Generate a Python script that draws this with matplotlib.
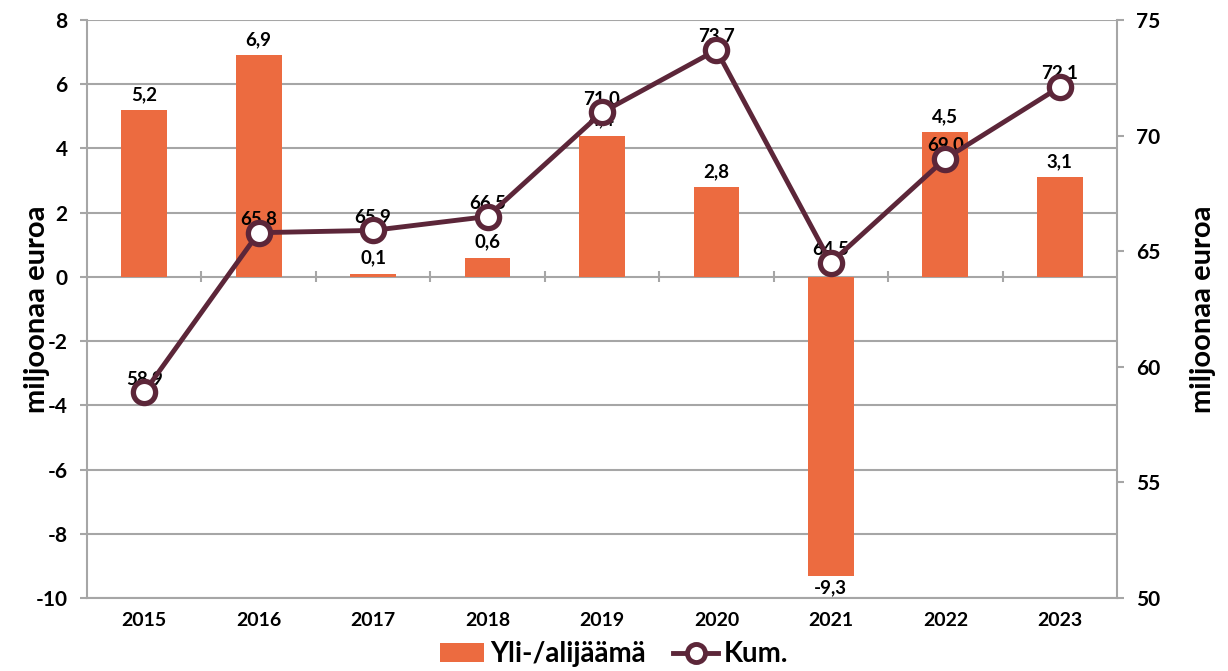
import matplotlib.pyplot as plt
import numpy as np
from matplotlib.lines import Line2D
from matplotlib.patches import Patch

plt.rcParams['font.family'] = ['Lato', 'DejaVu Sans']
plt.rcParams['font.weight'] = 'bold'
plt.rcParams['axes.labelweight'] = 'bold'
plt.rcParams['axes.unicode_minus'] = False

years = ['2015', '2016', '2017', '2018', '2019', '2020', '2021', '2022', '2023']
surplus = [5.2, 6.9, 0.1, 0.6, 4.4, 2.8, -9.3, 4.5, 3.1]
cumulative = [58.9, 65.8, 65.9, 66.5, 71.0, 73.7, 64.5, 69.0, 72.1]

bar_color = '#EC6B40'
line_color = '#5C2639'
grid_color = '#A6A6A6'


def fi(v):
    return f'{v:.1f}'.replace('.', ',')


fig = plt.figure(figsize=(12.28, 6.71), dpi=100)
ax = fig.add_axes([0.0708, 0.1088, 0.8388, 0.8614])
x = np.arange(len(years))

ax.bar(x, surplus, width=0.4, color=bar_color, zorder=2)
ax.set_ylim(-10, 8)
ax.set_yticks(np.arange(-10, 9, 2))
ax.set_xlim(-0.5, len(years) - 0.5)
ax.set_xticks(x)
ax.set_xticklabels(years)
ax.grid(axis='y', color=grid_color, linewidth=1.5, zorder=0)
ax.set_axisbelow(True)
ax.tick_params(axis='x', length=0, pad=10, labelsize=14)
ax.tick_params(axis='y', length=5, width=1.5, color=grid_color, pad=9, labelsize=15)
for s in ['left', 'right', 'bottom']:
    ax.spines[s].set_color(grid_color)
    ax.spines[s].set_linewidth(1.5)
ax.spines['top'].set_visible(False)

# category boundary ticks on the zero line
ax.vlines(np.arange(0.5, len(years) - 0.5), -0.17, 0.17, color=grid_color, linewidth=1.5, zorder=1)

for xi, v in zip(x, surplus):
    if v >= 0:
        ax.annotate(fi(v), (xi, v), xytext=(0, 5), textcoords='offset points',
                    ha='center', va='bottom', fontsize=13.5, zorder=3)
    else:
        ax.annotate(fi(v), (xi, v), xytext=(0, -3), textcoords='offset points',
                    ha='center', va='top', fontsize=13.5, zorder=3)

ax.set_ylabel('miljoonaa euroa', fontsize=21)
ax.yaxis.set_label_coords(-0.036, 0.5)

ax2 = ax.twinx()
ax2.set_ylim(50, 75)
ax2.set_yticks(np.arange(50, 76, 5))
ax2.tick_params(axis='y', length=5, width=1.5, color=grid_color, pad=9, labelsize=15)
for s in ax2.spines.values():
    s.set_visible(False)

for xi, v in zip(x, cumulative):
    ax2.annotate(fi(v), (xi, v), xytext=(0, 10), textcoords='offset points',
                 ha='center', va='center', fontsize=13.5, zorder=2)
ax2.plot(x, cumulative, color=line_color, linewidth=3.5, marker='o', markersize=16,
         markerfacecolor='white', markeredgecolor=line_color, markeredgewidth=3.8, zorder=3)
ax2.set_ylabel('miljoonaa euroa', fontsize=21)
ax2.yaxis.set_label_coords(1.071, 0.5)

handles = [Patch(facecolor=bar_color, edgecolor='none'),
           Line2D([0], [0], color=line_color, linewidth=3.5, marker='o', markersize=13,
                  markerfacecolor='white', markeredgecolor=line_color, markeredgewidth=3.5)]
fig.legend(handles, ['Yli-/alijäämä', 'Kum.'], loc='lower center', bbox_to_anchor=(0.5, -0.032),
           ncol=2, frameon=False, fontsize=20, handlelength=1.6, handletextpad=0.2, columnspacing=1.0)

fig.savefig('out.png', dpi=100)
